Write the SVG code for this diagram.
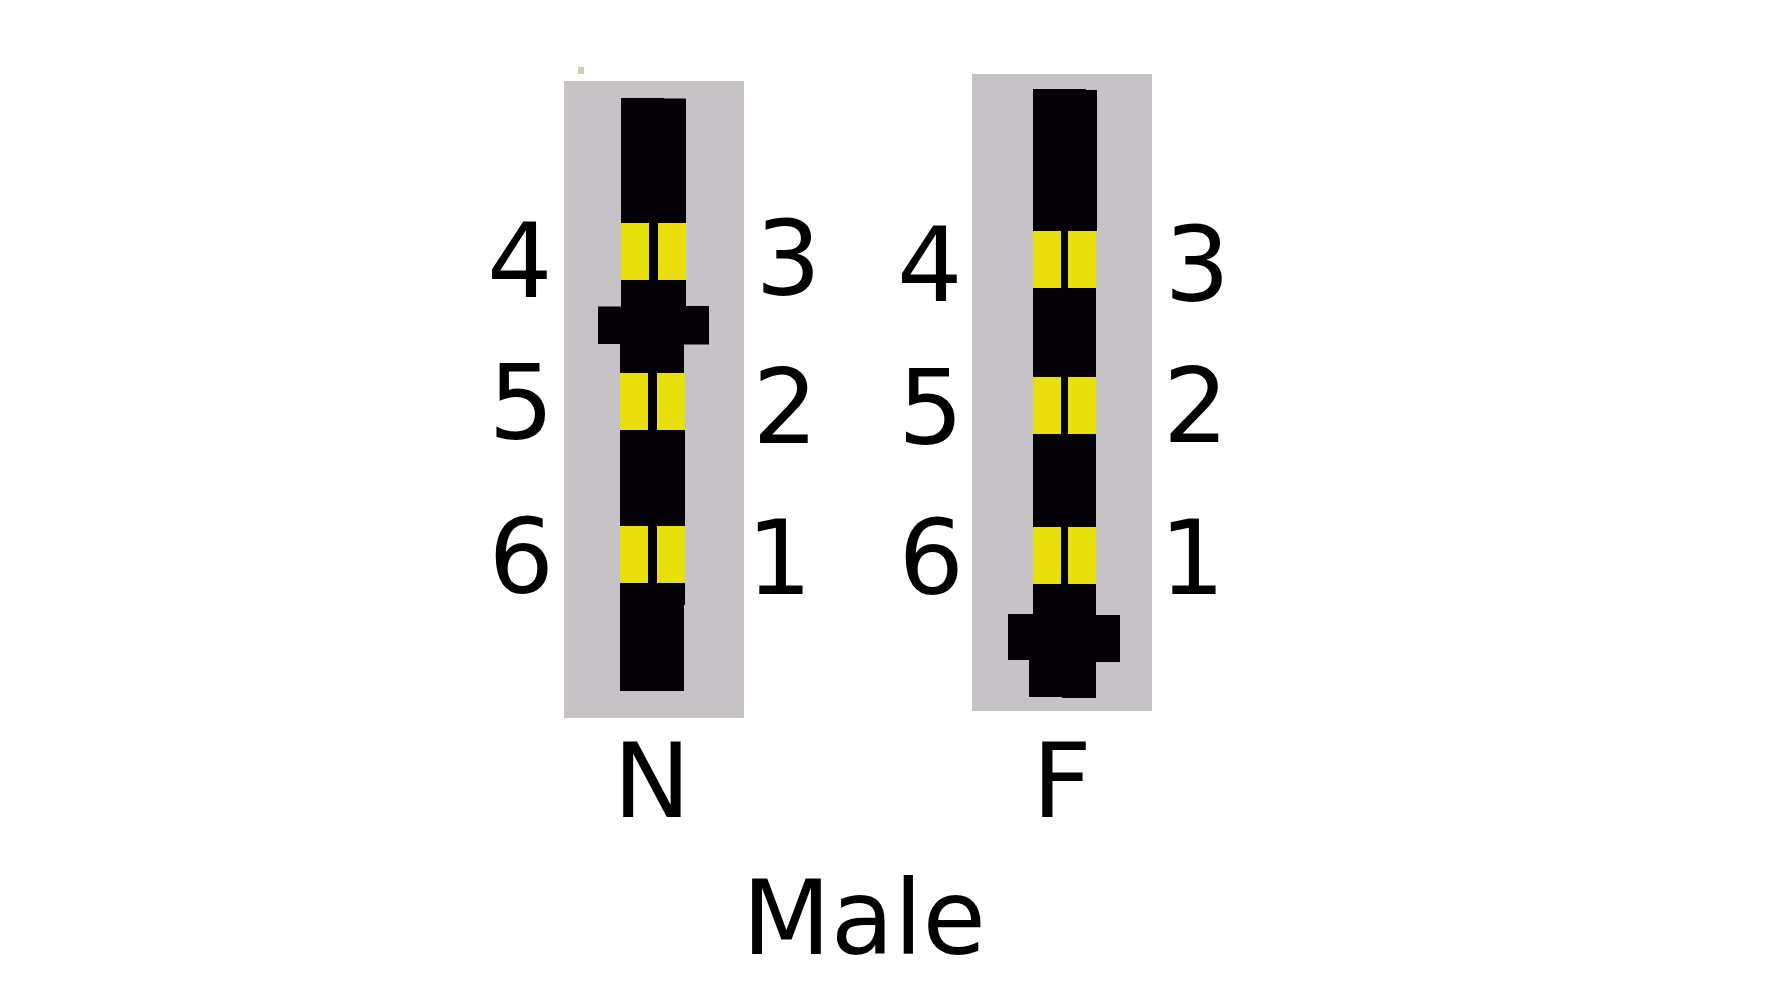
<svg xmlns="http://www.w3.org/2000/svg" width="1778" height="1000" viewBox="0 0 1778 1000">
<style>
.body{fill:#c6c2c6}
.blk{fill:#030003}
.pin{fill:#e9df0a}
text{font-family:"DejaVu Sans",sans-serif;font-size:103px;fill:#000}
text.ltr{font-size:104px}
</style>
<rect width="1778" height="1000" fill="#fff"/>
<rect x="578" y="67" width="6" height="7" fill="#cfcdb4"/>
<g id="connector-n">
<rect class="body" x="564" y="81" width="180" height="637"/>
<path class="blk" d="M621 98H664V98.500H686V306H709V344.500H684V373H685V605H684V691H620V344H598V306.500H621Z"/>
<rect class="pin" x="621" y="223" width="28" height="57"/>
<rect class="pin" x="658" y="223" width="28" height="57"/>
<rect class="pin" x="620" y="373" width="28" height="57"/>
<rect class="pin" x="657" y="373" width="28" height="57"/>
<rect class="pin" x="620" y="526" width="28" height="57"/>
<rect class="pin" x="657" y="526" width="28" height="57"/>
<text x="487" y="297">4</text>
<text x="755.500" y="294.500">3</text>
<text x="488.500" y="438.500">5</text>
<text x="752.500" y="443">2</text>
<text x="488.500" y="592.500">6</text>
<text x="746.500" y="594">1</text>
<text class="ltr" x="613" y="817">N</text>
</g>
<g id="connector-f">
<rect class="body" x="972" y="74" width="180" height="637"/>
<path class="blk" d="M1033 89H1086V90H1097V231H1096V615H1120V662H1096V698H1062V697H1029V660H1008V614H1033Z"/>
<rect class="pin" x="1033" y="231" width="28" height="57"/>
<rect class="pin" x="1068" y="231" width="28" height="57"/>
<rect class="pin" x="1033" y="377" width="28" height="57"/>
<rect class="pin" x="1068" y="377" width="28" height="57"/>
<rect class="pin" x="1033" y="527" width="28" height="57"/>
<rect class="pin" x="1068" y="527" width="28" height="57"/>
<text x="897" y="301">4</text>
<text x="1164.500" y="300.500">3</text>
<text x="898" y="444">5</text>
<text x="1163" y="442">2</text>
<text x="898.500" y="593.500">6</text>
<text x="1159.500" y="594">1</text>
<text class="ltr" x="1032" y="817">F</text>
</g>
<g id="connectors"/>
<g id="caption">
<text x="742" y="954">Male</text>
</g>
</svg>
